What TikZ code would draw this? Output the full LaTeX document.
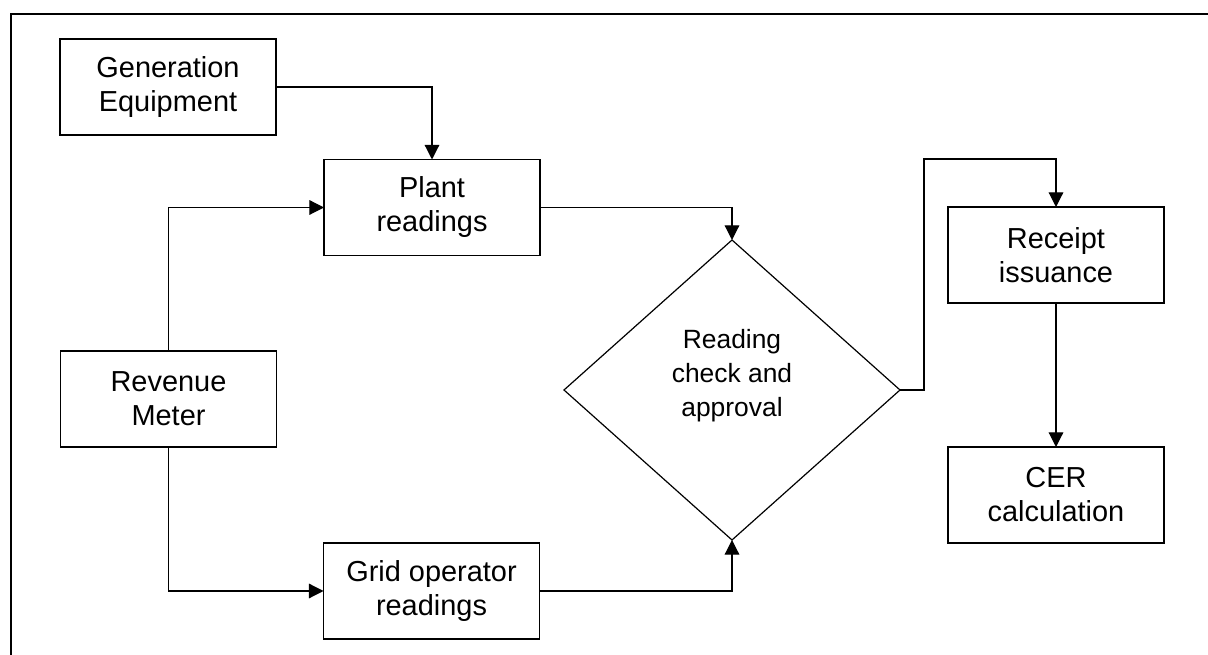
\documentclass[tikz,border=0pt]{standalone}
\usepackage{fontspec}
\setmainfont{Liberation Sans}
\usetikzlibrary{arrows.meta,shapes.geometric}
\begin{document}
\begin{tikzpicture}[x=0.75pt,y=-0.75pt,
  procbox/.style={draw, line width=0.9pt, minimum width=162pt, minimum height=72pt,
    inner sep=0pt, outer sep=0pt, align=center, font=\fontsize{21.7}{25.5}\selectfont},
  decision/.style={diamond, draw, line width=0.9pt, minimum width=252pt, minimum height=225pt,
    inner sep=0pt, outer sep=0pt},
  decisiontext/.style={align=center, inner sep=0pt, font=\fontsize{19.8}{25.5}\selectfont},
  flow/.style={line width=0.9pt, -{Triangle[length=11pt,width=11pt]}}]
  \useasboundingbox (0,0) rectangle (1208,655);
  % outer frame
  \draw[line width=1.5pt] (1212,14) -- (10.5,14) -- (10.5,660);
  % process steps
  \node[procbox] (gen)   at (168,87)    {Generation\\Equipment};
  \node[procbox] (plant) at (432,207.5) {Plant\\readings};
  \node[procbox] (rev)   at (168.5,399) {Revenue\\Meter};
  \node[procbox] (grid)  at (431.5,591) {Grid operator\\readings};
  \node[procbox] (rcpt)  at (1056,255)  {Receipt\\issuance};
  \node[procbox] (cer)   at (1056,495)  {CER\\calculation};
  % decision
  \node[decision] (chk) at (732,390) {};
  \node[decisiontext] (chktext) at (732,376) {Reading\\check and\\approval};
  \coordinate (bend) at (924,159);
  % connectors
  \draw[flow] (gen.east) -| (plant.north);
  \draw[flow] (rev.north) |- (plant.west);
  \draw[flow] (rev.south) |- (grid.west);
  \draw[flow] (plant.east) -| (chk.north);
  \draw[flow] (grid.east) -| (chk.south);
  \draw[flow] (chk.east) -| (bend) -| (rcpt.north);
  \draw[flow] (rcpt.south) -- (cer.north);
\end{tikzpicture}
\end{document}
